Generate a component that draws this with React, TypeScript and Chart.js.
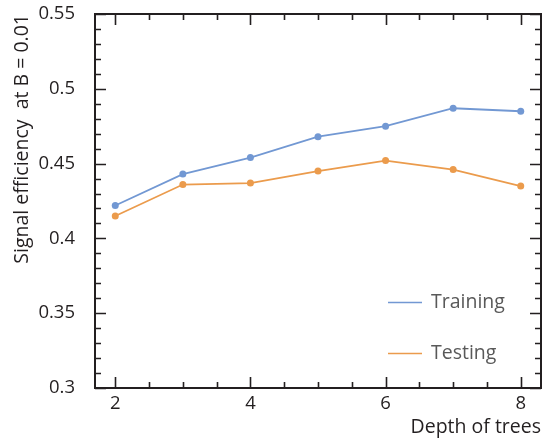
import React, { useEffect, useRef } from "react";
import { Chart, registerables } from "chart.js";

Chart.register(...registerables);

const depths = [2, 3, 4, 5, 6, 7, 8];
const training = [0.422, 0.443, 0.454, 0.468, 0.475, 0.487, 0.485];
const testing = [0.415, 0.436, 0.437, 0.445, 0.452, 0.446, 0.435];
const yTickValues = [0.3, 0.35, 0.4, 0.45, 0.5, 0.55];
const yTickLabels = ["0.3", "0.35", "0.4", "0.45", "0.5", "0.55"];
const xTickValues = [2, 4, 6, 8];
const xTickLabels = ["2", "4", "6", "8"];
const yMinorValues = [0.31, 0.32, 0.33, 0.34, 0.36, 0.37, 0.38, 0.39, 0.41, 0.42, 0.43, 0.44, 0.46, 0.47, 0.48, 0.49, 0.51, 0.52, 0.53, 0.54];
const xMinorValues = [2.5, 3, 3.5, 4.5, 5, 5.5, 6.5, 7, 7.5];

const BLUE = "#7298d3";
const ORANGE = "#eb9b4c";
const INK = "#231f20";

const framePlugin = {
  id: "frameTicks",
  afterDraw(chart: any) {
    const { ctx, chartArea: a, scales } = chart;
    const xs = scales.x;
    const ys = scales.y;
    ctx.save();
    ctx.strokeStyle = INK;
    ctx.lineWidth = 1.6;
    const major = 11;
    const minor = 6;
    ctx.beginPath();
    for (const v of xTickValues) {
      const px = Math.round(xs.getPixelForValue(v)) + 0.5;
      ctx.moveTo(px, a.bottom); ctx.lineTo(px, a.bottom - major);
      ctx.moveTo(px, a.top); ctx.lineTo(px, a.top + major);
    }
    for (const v of xMinorValues) {
      const px = Math.round(xs.getPixelForValue(v)) + 0.5;
      ctx.moveTo(px, a.bottom); ctx.lineTo(px, a.bottom - minor);
      ctx.moveTo(px, a.top); ctx.lineTo(px, a.top + minor);
    }
    for (const v of yTickValues) {
      const py = Math.round(ys.getPixelForValue(v)) + 0.5;
      ctx.moveTo(a.left, py); ctx.lineTo(a.left + major, py);
      ctx.moveTo(a.right, py); ctx.lineTo(a.right - major, py);
    }
    for (const v of yMinorValues) {
      const py = Math.round(ys.getPixelForValue(v)) + 0.5;
      ctx.moveTo(a.left, py); ctx.lineTo(a.left + minor, py);
      ctx.moveTo(a.right, py); ctx.lineTo(a.right - minor, py);
    }
    ctx.stroke();
    ctx.lineWidth = 2;
    ctx.strokeRect(a.left, a.top, a.right - a.left, a.bottom - a.top);

    // legend
    ctx.font = "19.5px 'Open Sans'";
    ctx.textBaseline = "middle";
    ctx.textAlign = "left";
    const entries = chart.data.datasets;
    entries.forEach((ds: any, i: number) => {
      const y = a.bottom - 86 + i * 51;
      const x0 = a.right - 153;
      ctx.strokeStyle = ds.borderColor;
      ctx.lineWidth = 1.6;
      ctx.beginPath();
      ctx.moveTo(x0, y + 0.5);
      ctx.lineTo(x0 + 34, y + 0.5);
      ctx.stroke();
      ctx.fillStyle = "#595959";
      ctx.fillText(ds.label, x0 + 43, y);
    });
    ctx.restore();
  },
};

export default function App() {
  const ref = useRef<HTMLCanvasElement>(null);
  useEffect(() => {
    if (!ref.current) return;
    Chart.defaults.font.family = "'Open Sans'";
    const chart = new Chart(ref.current, {
      type: "line",
      data: {
        datasets: [
          {
            label: "Training",
            data: depths.map((d, i) => ({ x: d, y: training[i] })),
            borderColor: BLUE,
            backgroundColor: BLUE,
            borderWidth: 1.8,
            pointRadius: 3.5,
            pointBorderWidth: 0,
          },
          {
            label: "Testing",
            data: depths.map((d, i) => ({ x: d, y: testing[i] })),
            borderColor: ORANGE,
            backgroundColor: ORANGE,
            borderWidth: 1.8,
            pointRadius: 3.5,
            pointBorderWidth: 0,
          },
        ],
      },
      options: {
        animation: false,
        responsive: false,
        maintainAspectRatio: false,
        layout: { padding: { left: 0, right: 3, top: 14, bottom: 0 } },
        plugins: { legend: { display: false }, tooltip: { enabled: false } },
        scales: {
          x: {
            type: "linear",
            min: 1.7,
            max: 8.3,
            grid: { display: false },
            border: { display: false },
            afterBuildTicks: (s: any) => {
              s.ticks = xTickValues.map((v) => ({ value: v }));
            },
            afterFit: (s: any) => {
              s.height = 52;
              s.paddingLeft = 0;
              s.paddingRight = 0;
            },
            ticks: {
              color: INK,
              font: { size: 18.5 },
              padding: -3,
              maxRotation: 0,
              callback: (v: any) => xTickLabels[xTickValues.indexOf(v)] ?? "",
            },
            title: {
              display: true,
              text: "Depth of trees",
              align: "end",
              color: INK,
              font: { size: 19.5 },
              padding: { top: 0, bottom: 1 },
            },
          },
          y: {
            type: "linear",
            min: 0.3,
            max: 0.55,
            grid: { display: false },
            border: { display: false },
            afterBuildTicks: (s: any) => {
              s.ticks = yTickValues.map((v) => ({ value: v }));
            },
            afterFit: (s: any) => {
              s.width = 95;
              s.paddingTop = 0;
              s.paddingBottom = 0;
            },
            ticks: {
              color: INK,
              font: { size: 18.5 },
              padding: 12,
              callback: (v: any) => {
                const i = yTickValues.findIndex((t) => Math.abs(t - v) < 1e-9);
                return i >= 0 ? yTickLabels[i] : "";
              },
            },
            title: {
              display: true,
              text: "Signal efficiency  at B = 0.01",
              align: "end",
              color: INK,
              font: { size: 19.5 },
              padding: { top: 11, bottom: 0 },
            },
          },
        },
      },
      plugins: [framePlugin],
    });
    return () => chart.destroy();
  }, []);
  return (
    <div style={{ position: "fixed", left: 0, top: 0, width: 545, height: 440, background: "#fff" }}>
      <canvas ref={ref} width={545} height={440} style={{ width: 545, height: 440 }} />
    </div>
  );
}
